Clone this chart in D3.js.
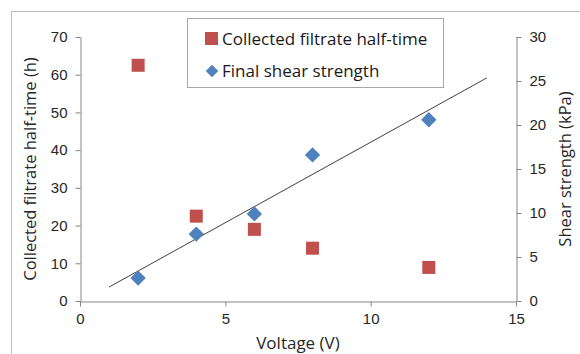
<!DOCTYPE html>
<html>
<head>
<meta charset="utf-8">
<script src="https://cdn.jsdelivr.net/npm/d3@7"></script>
<style>
  body { margin: 0; background: #fff; }
  svg { display: block; font-family: "Open Sans", "Noto Sans", sans-serif; }
</style>
</head>
<body>
<div id="chart"></div>
<script>
// data
const voltage = [2, 4, 6, 8, 12];
const halfTime = [62.5, 22.5, 19.0, 14.0, 8.9];      // h, left axis
const shearStrength = [2.6, 7.6, 9.9, 16.6, 20.6];   // kPa, right axis
const trendRange = [1, 14];
const xTicks = [0, 5, 10, 15];
const leftTicks = [0, 10, 20, 30, 40, 50, 60, 70];
const rightTicks = [0, 5, 10, 15, 20, 25, 30];

const width = 580, height = 354;
const margin = { top: 37, right: 64, bottom: 53, left: 80 };

const svg = d3.select("#chart").append("svg")
  .attr("width", width)
  .attr("height", height);

// chart frame (runs off the picture on the right and bottom)
svg.append("rect")
  .attr("x", 11.5).attr("y", 11.5)
  .attr("width", 600).attr("height", 400)
  .attr("fill", "none").attr("stroke", "#bfbfbf");

const x = d3.scaleLinear().domain([0, 15]).range([margin.left, width - margin.right]);
const yL = d3.scaleLinear().domain([0, 70]).range([height - margin.bottom, margin.top]);
const yR = d3.scaleLinear().domain([0, 30]).range([height - margin.bottom, margin.top]);

const axisColor = "#868686";
const textColor = "#262626";

function styleAxis(g) {
  g.select(".domain").attr("stroke", axisColor);
  g.selectAll(".tick line").attr("stroke", axisColor);
  g.selectAll(".tick text").attr("fill", textColor).style("font-size", "15px");
}

svg.append("g")
  .attr("transform", `translate(0,${height - margin.bottom + 0.5})`)
  .call(d3.axisBottom(x).tickValues(xTicks).tickSize(5).tickSizeOuter(0).tickPadding(7))
  .call(styleAxis);

svg.append("g")
  .attr("transform", `translate(${margin.left + 0.5},0)`)
  .call(d3.axisLeft(yL).tickValues(leftTicks).tickSize(5).tickSizeOuter(0).tickPadding(8))
  .call(styleAxis);

svg.append("g")
  .attr("transform", `translate(${width - margin.right + 0.5},0)`)
  .call(d3.axisRight(yR).tickValues(rightTicks).tickSize(5).tickSizeOuter(0).tickPadding(8))
  .call(styleAxis);

// axis titles
svg.append("text")
  .attr("x", (x(0) + x(15)) / 2).attr("y", 349)
  .attr("text-anchor", "middle")
  .attr("fill", textColor).style("font-size", "17px")
  .text("Voltage (V)");

svg.append("text")
  .attr("transform", `translate(36,${yL(35)}) rotate(-90)`)
  .attr("text-anchor", "middle")
  .attr("fill", textColor).style("font-size", "16.5px")
  .text("Collected filtrate half-time  (h)");

svg.append("text")
  .attr("transform", `translate(571,${yR(15)}) rotate(-90)`)
  .attr("text-anchor", "middle")
  .attr("fill", textColor).style("font-size", "16.5px")
  .text("Shear strength (kPa)");

// linear trend of shear strength
const mx = d3.mean(voltage), my = d3.mean(shearStrength);
const slope = d3.sum(voltage, (v, i) => (v - mx) * (shearStrength[i] - my)) /
              d3.sum(voltage, v => (v - mx) * (v - mx));
const intercept = my - slope * mx;
svg.append("line")
  .attr("x1", x(trendRange[0])).attr("y1", yR(intercept + slope * trendRange[0]))
  .attr("x2", x(trendRange[1])).attr("y2", yR(intercept + slope * trendRange[1]))
  .attr("stroke", "#404040").attr("stroke-width", 1);

const red = "#c0504d", blue = "#4f81bd";
const sq = 13;

svg.append("g").selectAll("rect")
  .data(voltage.map((v, i) => [v, halfTime[i]]))
  .join("rect")
  .attr("x", d => x(d[0]) - sq / 2)
  .attr("y", d => yL(d[1]) - sq / 2)
  .attr("width", sq).attr("height", sq)
  .attr("fill", red);

const diamond = d3.symbol().type(d3.symbolDiamond2).size(150);
svg.append("g").selectAll("path")
  .data(voltage.map((v, i) => [v, shearStrength[i]]))
  .join("path")
  .attr("transform", d => `translate(${x(d[0])},${yR(d[1])})`)
  .attr("d", diamond)
  .attr("fill", blue);

// legend
const legend = svg.append("g");
legend.append("rect")
  .attr("x", 187.5).attr("y", 18.5)
  .attr("width", 256).attr("height", 69)
  .attr("fill", "#fff").attr("stroke", "#a6a6a6");

legend.append("rect")
  .attr("x", 205).attr("y", 32).attr("width", 13).attr("height", 13)
  .attr("fill", red);
legend.append("path")
  .attr("transform", "translate(212,71)")
  .attr("d", d3.symbol().type(d3.symbolDiamond2).size(100))
  .attr("fill", blue);

legend.append("text")
  .attr("x", 222).attr("y", 45)
  .attr("fill", "#1a1a1a").style("font-size", "17px")
  .text("Collected filtrate half-time");
legend.append("text")
  .attr("x", 222).attr("y", 77)
  .attr("fill", "#1a1a1a").style("font-size", "17px")
  .text("Final shear strength");
</script>
</body>
</html>
